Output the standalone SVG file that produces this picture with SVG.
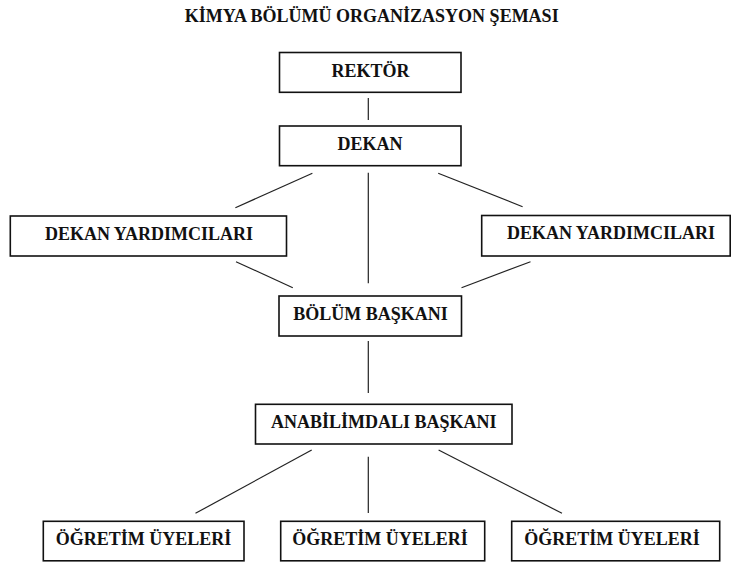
<svg xmlns="http://www.w3.org/2000/svg" width="731" height="562" viewBox="0 0 731 562">
<style>
.box{fill:#fff;stroke:#111;stroke-width:1.6}
.t{font-family:"Liberation Serif","Times New Roman",serif;font-weight:bold;font-size:18px;fill:#111;text-anchor:middle}
.c line{stroke:#222;stroke-width:1.2}
</style>
<rect width="731" height="562" fill="#fff"/>
<text class="t" x="371.7" y="21.7">KİMYA BÖLÜMÜ ORGANİZASYON ŞEMASI</text>
<g class="c" id="connectors">
<line x1="368.3" y1="98" x2="368.3" y2="120"/>
<line x1="312.4" y1="173.3" x2="235.4" y2="207.7"/>
<line x1="368.3" y1="172.7" x2="368.3" y2="283.3"/>
<line x1="438.2" y1="173.3" x2="522.6" y2="206.7"/>
<line x1="236" y1="261.7" x2="292.8" y2="287.7"/>
<line x1="530.5" y1="261.7" x2="461.5" y2="287.7"/>
<line x1="368.3" y1="341" x2="368.3" y2="393"/>
<line x1="311.7" y1="450" x2="195.5" y2="513.3"/>
<line x1="368.3" y1="456.7" x2="368.3" y2="513"/>
<line x1="438.6" y1="450" x2="562" y2="513.3"/>
</g>
<g id="rektor"><rect class="box" x="279.5" y="52.5" width="181.5" height="39.8"/><text class="t" x="370.5" y="76.7">REKTÖR</text></g>
<g id="dekan"><rect class="box" x="279.5" y="126" width="181.5" height="39.7"/><text class="t" x="370" y="149.8">DEKAN</text></g>
<g id="dekan-yard-left"><rect class="box" x="10.3" y="216" width="276.2" height="40"/><text class="t" x="149" y="239.5">DEKAN YARDIMCILARI</text></g>
<g id="dekan-yard-right"><rect class="box" x="481.7" y="215.5" width="248.5" height="40.5"/><text class="t" x="611" y="239">DEKAN YARDIMCILARI</text></g>
<g id="bolum-baskani"><rect class="box" x="279" y="296" width="182.5" height="40"/><text class="t" x="370.5" y="320">BÖLÜM BAŞKANI</text></g>
<g id="anabilimdali-baskani"><rect class="box" x="255.5" y="404.3" width="256.5" height="39.7"/><text class="t" x="383.8" y="427.8">ANABİLİMDALI BAŞKANI</text></g>
<g id="ogretim-left"><rect class="box" x="43.3" y="521.3" width="200.7" height="39.5"/><text class="t" x="143.4" y="545">ÖĞRETİM ÜYELERİ</text></g>
<g id="ogretim-center"><rect class="box" x="280.7" y="521.3" width="204" height="39.5"/><text class="t" x="380" y="545">ÖĞRETİM ÜYELERİ</text></g>
<g id="ogretim-right"><rect class="box" x="511.7" y="521.3" width="208" height="39.5"/><text class="t" x="612" y="545">ÖĞRETİM ÜYELERİ</text></g>
</svg>
